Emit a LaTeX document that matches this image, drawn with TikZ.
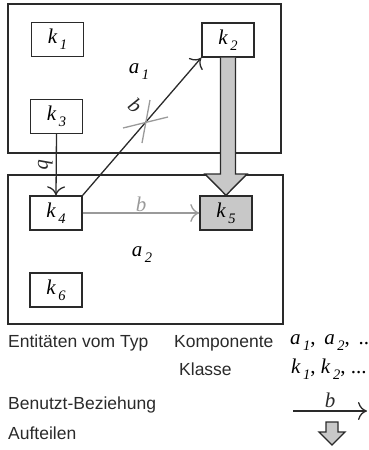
\documentclass[tikz,border=0pt]{standalone}
\usepackage{fontspec}
\setmainfont{Liberation Serif}
\setsansfont{Liberation Sans}
\usetikzlibrary{arrows.meta,calc}
\definecolor{dk}{HTML}{2A2A2A}
\definecolor{gfill}{HTML}{C8C8C8}
\definecolor{gline}{HTML}{9A9A9A}
\newcommand\ix[2]{\textit{#1}\raisebox{-6pt}{\fontsize{14.5}{14.5}\selectfont\,\textit{#2}}}
\begin{document}
\begin{tikzpicture}[x=1pt,y=-1pt,
  kbox/.style={draw=dk, line width=1.4pt, minimum width=52pt, minimum height=34pt, inner sep=0pt, font=\fontsize{21}{21}\selectfont},
  comp/.style={draw=dk, line width=1.5pt, inner sep=0pt},
  lbl/.style={font=\fontsize{21}{21}\selectfont, inner sep=1pt},
  leg/.style={font=\sffamily\fontsize{17.5}{20}\selectfont, anchor=west, inner sep=0pt, text=dk},
  barb/.style={-{Computer Modern Rightarrow[length=9pt,width=18pt,line width=1.3pt]}},
  thin/.style={line width=1.3pt},
  bigarrow/.style={draw=dk, fill=gfill, line width=1.4pt, line join=miter},
]
\useasboundingbox (0,0) rectangle (368,450);
% components
\node[comp, minimum width=273pt, minimum height=149pt] (A1) at (144.5,78.5) {};
\node[comp, minimum width=275pt, minimum height=149pt] (A2) at (145.5,249.5) {};
\node[lbl] (a1) at (139,72) {\ix{a}{1}};
\node[lbl] (a2) at (142,255) {\ix{a}{2}};
% classes
\node[kbox] (k1) at (57.5,39.5) {\ix{k}{1}};
\node[kbox] (k2) at (228,40) {\ix{k}{2}};
\node[kbox] (k3) at (56.5,116.5) {\ix{k}{3}};
\node[kbox] (k4) at (56,213) {\ix{k}{4}};
\node[kbox, fill=gfill] (k5) at (226,213) {\ix{k}{5}};
\node[kbox] (k6) at (56,290) {\ix{k}{6}};
% splitting arrow k2 -> k5
\draw[bigarrow] ($(k2.south)+(-7.5,0)$) -- ($(k2.south |- 0,174)+(-7.5,0)$) -- ($(k5.north |- 0,174)+(-21,0)$)
  -- (k5.north) -- ($(k5.north |- 0,174)+(21,0)$) -- ($(k2.south |- 0,174)+(7.5,0)$) -- ($(k2.south)+(7.5,0)$);
% uses relations
\draw[thin, barb, dk] (k3.south) -- node[lbl, xshift=-11pt, rotate=-90] (b1) {\textit{b}} (k4.north);
\draw[thin, barb, dk] (k4.north east) -- node[lbl, pos=0.57, xshift=-15pt, yshift=11pt, rotate=-41] (b2) {\textit{b}} (k2.south west);
\draw[thin, barb, gline] (k4.east) -- node[lbl, above=0pt, text=gline] (b3) {\textit{b}} (k5.west);
% cross
\coordinate (c1) at (123,128);
\coordinate (c2) at (168,117);
\coordinate (c3) at (150,100);
\coordinate (c4) at (142,143);
\draw[gline, line width=1.3pt] (c1) -- (c2);
\draw[gline, line width=1.3pt] (c3) -- (c4);
% legend
\node[leg] (e1) at (8,343) {Entitäten vom Typ};
\node[leg] (e2) at (174,343) {Komponente};
\node[leg] (e3) at (179,369) {Klasse};
\node[leg] (e4) at (8,405) {Benutzt-Beziehung};
\node[leg] (e5) at (8,433) {Aufteilen};
\node[lbl, anchor=west, inner sep=0pt] (l1) at (290,343) {\ix{a}{1},\, \ix{a}{2},\, ..};
\node[lbl, anchor=west, inner sep=0pt] (l2) at (291,369) {\ix{k}{1}, \ix{k}{2}, ...};
\coordinate (ls) at (293,411);
\coordinate (le) at (367,411);
\draw[thin, barb, dk] (ls) -- node[lbl, above=2pt] (lb) {\textit{b}} (le);
\coordinate (dA) at (332,422);
\draw[bigarrow] ($(dA)+(-6,0)$) -- ($(dA)+(-6,10)$) -- ($(dA)+(-13,10)$) -- ($(dA)+(0,23)$)
  -- ($(dA)+(13,10)$) -- ($(dA)+(6,10)$) -- ($(dA)+(6,0)$) -- cycle;
\end{tikzpicture}
\end{document}
